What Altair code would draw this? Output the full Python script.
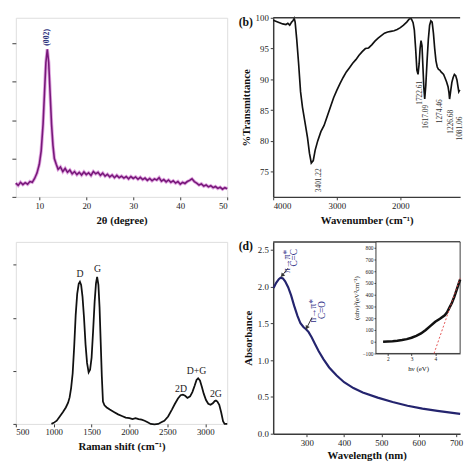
import altair as alt
import pandas as pd

FONT = "Liberation Serif"
FRAME = "#3a3a3a"
NAVY = "#24246e"

# ---------------- (a) XRD ----------------
xrd_2theta = [5.0, 5.5, 6.0, 6.5, 7.0, 7.5, 8.0, 8.5, 9.0, 9.5, 10.0, 10.4, 10.8, 11.1, 11.4, 11.7,
              12.0, 12.3, 12.6, 12.9, 13.2, 13.6, 14.0, 14.5, 15.0, 15.5, 16.0, 16.5, 17.0, 17.5,
              18.0, 18.5, 19.0, 19.5, 20.0, 20.5, 21.0, 21.5, 22.0, 22.5, 23.0, 23.5, 24.0, 24.5,
              25.0, 25.5, 26.0, 26.5, 27.0, 27.5, 28.0, 28.5, 29.0, 29.5, 30.0, 30.5, 31.0, 31.5,
              32.0, 32.5, 33.0, 33.5, 34.0, 34.5, 35.0, 35.5, 36.0, 36.5, 37.0, 37.5, 38.0, 38.5,
              39.0, 39.5, 40.0, 40.5, 41.0, 41.5, 42.0, 42.5, 43.0, 43.5, 44.0, 44.5, 45.0, 45.5,
              46.0, 46.5, 47.0, 47.5, 48.0, 48.5, 49.0, 49.5, 50.0]
xrd_intensity = [0.36, 0.30, 0.38, 0.32, 0.37, 0.33, 0.40, 0.38, 0.48, 0.62, 0.85, 1.20, 1.90, 2.70, 3.50, 3.85,
                 3.50, 2.70, 1.90, 1.35, 1.00, 0.85, 0.72, 0.78, 0.66, 0.74, 0.64, 0.70, 0.60, 0.66,
                 0.58, 0.64, 0.57, 0.65, 0.58, 0.63, 0.56, 0.66, 0.60, 0.64, 0.56, 0.62, 0.54, 0.59,
                 0.52, 0.57, 0.50, 0.56, 0.50, 0.54, 0.49, 0.53, 0.47, 0.53, 0.48, 0.52, 0.46, 0.51,
                 0.45, 0.49, 0.43, 0.48, 0.42, 0.47, 0.44, 0.50, 0.41, 0.45, 0.39, 0.44, 0.38, 0.42,
                 0.36, 0.40, 0.33, 0.38, 0.35, 0.40, 0.43, 0.47, 0.40, 0.36, 0.31, 0.34, 0.28, 0.31,
                 0.26, 0.29, 0.24, 0.27, 0.22, 0.25, 0.20, 0.24, 0.21]
xrd_label_text = ["(002)"]
xrd_label_x = [11.7]
xrd_label_y = [4.16]

# ---------------- (b) FTIR ----------------
ftir_wn = [4000, 3950, 3900, 3850, 3800, 3770, 3740, 3710, 3690, 3670, 3655, 3630, 3600, 3570, 3540,
           3500, 3460, 3430, 3401, 3370, 3340, 3300, 3250, 3200, 3150, 3100, 3050, 3000, 2950, 2900,
           2850, 2800, 2750, 2700, 2650, 2600, 2550, 2500, 2450, 2400, 2350, 2300, 2250, 2200, 2150,
           2100, 2050, 2000, 1950, 1900, 1860, 1830, 1800, 1780, 1760, 1740, 1722, 1705, 1690, 1675,
           1660, 1645, 1630, 1617, 1600, 1580, 1560, 1540, 1520, 1500, 1480, 1460, 1440, 1420, 1400,
           1380, 1360, 1340, 1320, 1300, 1274, 1250, 1235, 1226, 1210, 1190, 1170, 1150, 1130, 1110,
           1095, 1081, 1065]
ftir_T = [99.6, 99.4, 99.2, 99.0, 98.9, 99.1, 98.8, 99.3, 99.5, 99.9, 99.3, 96.5, 92.5, 88.0, 85.5,
          83.0, 80.5, 78.0, 76.4, 76.8, 78.5, 80.0, 81.5, 82.5, 84.0, 85.5, 87.0, 88.2, 89.3, 90.3,
          91.2, 91.9, 92.6, 93.2, 93.9, 94.5, 95.0, 95.1, 95.6, 96.2, 96.7, 97.1, 97.5, 97.7, 97.8,
          97.9, 98.1, 98.4, 98.8, 99.3, 99.8, 99.9, 99.2, 98.0, 95.0, 91.5, 90.8, 92.5, 95.0, 96.3,
          95.5, 92.0, 88.5, 86.8, 89.0, 93.0, 96.5, 98.8, 99.5, 99.3, 97.5, 95.0, 93.0, 92.0, 91.6,
          91.5, 91.2, 91.0, 90.8, 90.3, 89.6, 88.8, 87.8, 86.8, 88.0, 89.5, 90.3, 90.8, 90.6, 89.9,
          88.9, 88.0, 88.3]
ftir_label_text = ["3401.22", "1722.61", "1617.09", "1274.46", "1226.68", "1081.06"]
ftir_label_x = [3280, 1695, 1590, 1380, 1210, 1068]
ftir_label_y = [73.6, 87.8, 83.9, 84.8, 83.1, 82.0]

# ---------------- (c) Raman ----------------
raman_shift = [970, 1000, 1040, 1080, 1120, 1160, 1190, 1210, 1230, 1250, 1270, 1290, 1310, 1330, 1346,
               1362, 1380, 1400, 1420, 1440, 1461, 1480, 1500, 1520, 1540, 1558, 1573, 1590, 1605, 1620,
               1635, 1650, 1670, 1700, 1740, 1800, 1850, 1900, 1950, 2000, 2040, 2080, 2120, 2160, 2200,
               2240, 2280, 2330, 2380, 2420, 2460, 2510, 2560, 2600, 2640, 2675, 2705, 2735, 2765, 2800,
               2830, 2860, 2885, 2906, 2930, 2955, 2980, 3010, 3040, 3070, 3100, 3125, 3141, 3160, 3185,
               3210, 3235, 3255, 3290]
raman_int = [0.0, 0.02, 0.06, 0.14, 0.22, 0.31, 0.40, 0.50, 0.68, 0.95, 1.45, 2.05, 2.45, 2.64, 2.68,
             2.62, 2.40, 2.00, 1.50, 1.15, 0.97, 1.02, 1.25, 1.75, 2.30, 2.65, 2.77, 2.62, 2.20, 1.55,
             0.90, 0.42, 0.35, 0.31, 0.27, 0.22, 0.18, 0.15, 0.12, 0.11, 0.09, 0.11, 0.09, 0.08, 0.06,
             0.03, 0.00, -0.01, 0.00, 0.03, 0.06, 0.14, 0.27, 0.38, 0.48, 0.54, 0.55, 0.53, 0.49, 0.52,
             0.60, 0.72, 0.83, 0.86, 0.82, 0.70, 0.57, 0.45, 0.38, 0.36, 0.39, 0.43, 0.44, 0.42, 0.36,
             0.22, 0.05, 0.00, 0.00]
raman_label_text = ["D", "G", "2D", "D+G", "2G"]
raman_label_x = [1346, 1578, 2680, 2885, 3141]
raman_label_y = [2.83, 2.92, 0.65, 1.00, 0.57]

# ---------------- (d) UV-vis ----------------
uv_nm = [211, 218, 225, 230, 236, 242, 250, 258, 266, 275, 283, 291, 298, 305, 313, 322, 332, 345,
         360, 380, 400, 425, 450, 490, 530, 570, 610, 650, 711]
uv_abs = [1.98, 2.05, 2.10, 2.12, 2.11, 2.07, 1.99, 1.88, 1.74, 1.60, 1.50, 1.45, 1.42, 1.38, 1.31,
          1.22, 1.12, 1.01, 0.90, 0.79, 0.70, 0.62, 0.56, 0.49, 0.43, 0.38, 0.34, 0.31, 0.27]
uv_note_text = ["π→π*", "C=C", "n→π*", "C=O"]
uv_note_x = [246, 266, 318, 340]
uv_note_y = [2.34, 2.39, 1.67, 1.68]
uv_arrow_x = [250, 314]
uv_arrow_y = [2.25, 1.58]
uv_arrow_x2 = [234, 300]
uv_arrow_y2 = [2.15, 1.44]
uv_arrow_angle = [220, 208]

tauc_eV = [1.8, 2.0, 2.2, 2.4, 2.6, 2.8, 3.0, 3.2, 3.4, 3.6, 3.8, 4.0, 4.2, 4.4, 4.5, 4.6, 4.7, 4.8,
           4.9, 5.0, 5.05]
tauc_val = [0, 2, 4, 8, 14, 22, 34, 50, 70, 100, 135, 170, 195, 225, 250, 290, 330, 380, 440, 500, 530]
tauc_fit_x = [3.95, 5.05]
tauc_fit_y = [-100, 540]

# ================= build =================
lab_axis = dict(labelFont=FONT, titleFont=FONT, labelFontSize=9, titleFontSize=11,
                titleFontWeight="bold", labelColor="#222", titleColor="#111",
                tickColor=FRAME, domainColor=FRAME, grid=False)

# (a)
dfa = pd.DataFrame({"x": xrd_2theta, "y": xrd_intensity})
XA = alt.X("x:Q", scale=alt.Scale(domain=[5, 50], nice=False),
           axis=alt.Axis(values=[10, 20, 30, 40, 50], format="d", title="2θ (degree)", domain=False,
                         tickSize=3, labelPadding=2, titlePadding=4, **lab_axis))
YA = alt.Y("y:Q", scale=alt.Scale(domain=[0, 4.67], nice=False),
           axis=alt.Axis(values=[0, 1, 2, 3, 4], labels=False, title=None, domain=False,
                         tickSize=4, **lab_axis))
a_band = alt.Chart(dfa).mark_line(color="#c45ac4", strokeWidth=3.4, opacity=0.55).encode(x=XA, y=YA)
a_line = alt.Chart(dfa).mark_line(color="#78187a", strokeWidth=1.6).encode(x=XA, y=YA)
a_lab = alt.Chart(pd.DataFrame({"x": xrd_label_x, "y": xrd_label_y, "t": xrd_label_text})).mark_text(
    angle=270, color="#1f2a78", fontSize=8, fontWeight="bold", font=FONT).encode(x=XA, y=YA, text="t:N")
panel_a = alt.layer(a_band, a_line, a_lab).properties(width=216, height=183)

# (b)
dfb = pd.DataFrame({"x": ftir_wn, "y": ftir_T})
XB = alt.X("x:Q", scale=alt.Scale(domain=[1060, 4000], reverse=True, nice=False),
           axis=alt.Axis(values=[4000, 3000, 2000], format="d", title="Wavenumber (cm⁻¹)", domainWidth=1.5,
                         tickSize=3, labelPadding=2, titlePadding=4, **lab_axis))
YB = alt.Y("y:Q", scale=alt.Scale(domain=[70.9, 100], nice=False),
           axis=alt.Axis(values=[75, 80, 85, 90, 95, 100], format="d", title="%Transmittance", domainWidth=1.5,
                         tickSize=3, labelPadding=2, titlePadding=4, **lab_axis))
b_line = alt.Chart(dfb).mark_line(color="#111", strokeWidth=1.7).encode(x=XB, y=YB)
b_top = alt.Chart(pd.DataFrame({"y": [100]})).mark_rule(color=FRAME, strokeWidth=1.5).encode(y=YB)
b_lab = alt.Chart(pd.DataFrame({"x": ftir_label_x, "y": ftir_label_y, "t": ftir_label_text})).mark_text(
    angle=270, color="#333", fontSize=7.5, font=FONT).encode(x=XB, y=YB, text="t:N")
b_tag = alt.Chart(pd.DataFrame({"t": ["(b)"]})).mark_text(
    fontSize=12, fontWeight="bold", font=FONT, color="#111").encode(
    x=alt.value(-28), y=alt.value(4), text="t:N")
panel_b = alt.layer(b_line, b_top, b_lab, b_tag).properties(
    width=191, height=183, view=alt.ViewBackground(stroke="transparent"))

# (c)
dfc = pd.DataFrame({"x": raman_shift, "y": raman_int})
XC = alt.X("x:Q", scale=alt.Scale(domain=[500, 3290], nice=False),
           axis=alt.Axis(values=[500, 1000, 1500, 2000, 2500, 3000], format="d", title="Raman shift (cm⁻¹)",
                         domain=False, tickSize=3, labelPadding=1, titlePadding=4, **lab_axis))
YC = alt.Y("y:Q", scale=alt.Scale(domain=[0, 3.43], nice=False),
           axis=alt.Axis(values=[0, 1, 2, 3], labels=False, title=None, domain=False,
                         tickSize=3, **lab_axis))
c_line = alt.Chart(dfc).mark_line(color="#111", strokeWidth=1.8).encode(x=XC, y=YC)
c_lab = alt.Chart(pd.DataFrame({"x": raman_label_x, "y": raman_label_y, "t": raman_label_text})).mark_text(
    color="#222", fontSize=10, font=FONT).encode(x=XC, y=YC, text="t:N")
panel_c = alt.layer(c_line, c_lab).properties(width=216, height=186)

# (d) main
SXD = alt.Scale(domain=[210, 711], nice=False)
SYD = alt.Scale(domain=[0, 2.606], nice=False)
AXD = alt.Axis(values=[300, 400, 500, 600, 700], format="d", title="Wavelength (nm)", domainWidth=1.5,
               tickSize=3, labelPadding=2, titlePadding=2, **lab_axis)
AYD = alt.Axis(values=[0, 0.5, 1.0, 1.5, 2.0, 2.5], format=".1f", title="Absorbance",
               domainWidth=1.5, tickSize=3, labelPadding=2, titlePadding=4, **lab_axis)
XD = alt.X("x:Q", scale=SXD, axis=AXD)
YD = alt.Y("y:Q", scale=SYD, axis=AYD)
dfd = pd.DataFrame({"x": uv_nm, "y": uv_abs})
d_line = alt.Chart(dfd).mark_line(color=NAVY, strokeWidth=2.2).encode(x=XD, y=YD)
d_top = alt.Chart(pd.DataFrame({"y": [2.606]})).mark_rule(color=FRAME, strokeWidth=1.5).encode(y=YD)
d_txt = alt.Chart(pd.DataFrame({"x": uv_note_x, "y": uv_note_y, "t": uv_note_text})).mark_text(
    angle=270, color="#2b2b85", fontSize=9.5, font=FONT).encode(x=XD, y=YD, text="t:N")
dfarr = pd.DataFrame({"x": uv_arrow_x, "y": uv_arrow_y, "x2": uv_arrow_x2, "y2": uv_arrow_y2,
                      "a": uv_arrow_angle})
d_arr = alt.Chart(dfarr).mark_rule(color="#333", strokeWidth=1).encode(
    x=XD, y=YD, x2="x2:Q", y2="y2:Q")
d_head = alt.Chart(dfarr).mark_point(shape="triangle-up", filled=True, size=22, color="#333",
                                     opacity=1).encode(
    x=alt.X("x2:Q", scale=SXD, axis=AXD),
    y=alt.Y("y2:Q", scale=SYD, axis=AYD),
    angle=alt.Angle("a:Q", scale=None))
d_tag = alt.Chart(pd.DataFrame({"t": ["(d)"]})).mark_text(
    fontSize=12, fontWeight="bold", font=FONT, color="#111").encode(
    x=alt.value(-28), y=alt.value(4), text="t:N")
d_main = alt.layer(d_line, d_top, d_txt, d_arr, d_head, d_tag)

# (d) inset
ins_axis = dict(labelFont=FONT, titleFont=FONT, labelFontSize=5.5, titleFontSize=7,
                titleFontWeight="normal", labelColor="#222", titleColor="#111",
                tickColor=FRAME, domainColor=FRAME, grid=False, tickSize=2, labelPadding=1,
                domainWidth=1)
XI = alt.X("x:Q", scale=alt.Scale(domain=[1.5, 5.05], range=[105, 191], nice=False),
           axis=alt.Axis(orient="bottom", offset=-82, values=[2, 3, 4], title="hν (eV)",
                         titlePadding=3, **ins_axis))
YI = alt.Y("y:Q", scale=alt.Scale(domain=[-100, 850], range=[114, 0], nice=False),
           axis=alt.Axis(orient="left", offset=-105, values=[-100, 0, 100, 200, 300, 400, 500, 600, 700, 800],
                         title="(αhν)²(eV²cm⁻²)", titlePadding=2, **ins_axis))
ins_box = alt.Chart(pd.DataFrame({"x": [1.5], "x2": [5.05], "y": [-100], "y2": [850]})).mark_rect(
    fill="white", stroke=FRAME, strokeWidth=1).encode(x=XI, x2="x2:Q", y=YI, y2="y2:Q")
ins_line = alt.Chart(pd.DataFrame({"x": tauc_eV, "y": tauc_val})).mark_line(
    color="#111", strokeWidth=2.6).encode(x=XI, y=YI)
ins_fit = alt.Chart(pd.DataFrame({"x": tauc_fit_x, "y": tauc_fit_y})).mark_line(
    color="#e04040", strokeWidth=0.9, strokeDash=[2, 2]).encode(x=XI, y=YI)
d_inset = alt.layer(ins_box, ins_line, ins_fit)

panel_d = alt.layer(d_main, d_inset).resolve_scale(x="independent", y="independent").properties(
    width=191, height=196, view=alt.ViewBackground(stroke="transparent"))

chart = alt.concat(panel_a, panel_b, panel_c, panel_d, columns=2, align="each",
                   spacing={"row": 46, "column": 47}, bounds="flush").properties(
    padding=0).configure_view(stroke=FRAME, strokeWidth=1.5).configure(background="white")

chart.save("out.html", embed_options={"renderer": "svg", "actions": False})
